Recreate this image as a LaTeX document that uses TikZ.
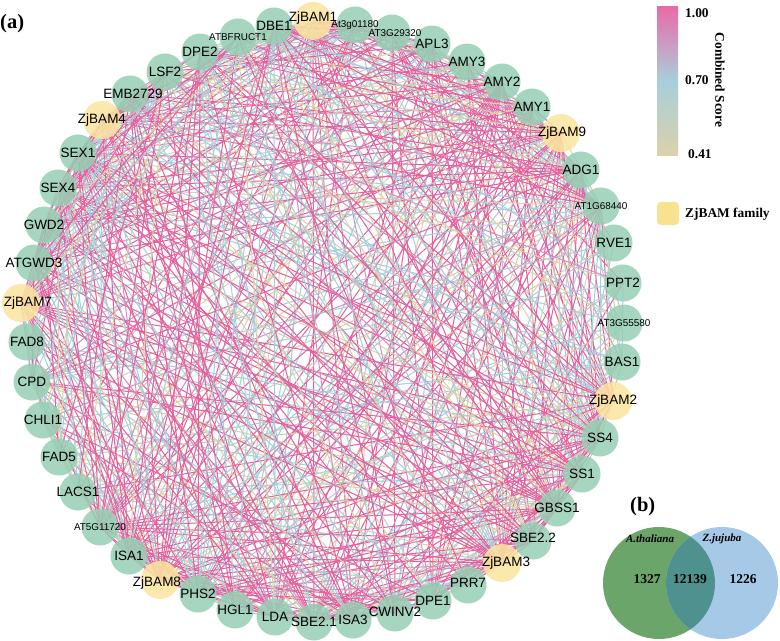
\documentclass[tikz,border=0pt]{standalone}
\usepackage{fontspec}
\newfontfamily\lsans{Liberation Sans}
\newfontfamily\lserif{Liberation Serif}
\pgfdeclarelayer{bg}
\pgfdeclarelayer{edges}
\pgfsetlayers{bg,edges,main}
\definecolor{ngreen}{HTML}{96CFB3}
\definecolor{nyellow}{HTML}{FBE5A0}
\definecolor{epink}{HTML}{E5609C}
\definecolor{elav}{HTML}{D98DBE}
\definecolor{eblue}{HTML}{A7CEDB}
\definecolor{ebeige}{HTML}{D8D3AC}
\definecolor{vgreen}{HTML}{6BA56A}
\definecolor{vblue}{HTML}{A7C9E8}
\definecolor{vmix}{HTML}{4E918E}
\definecolor{lgtop}{HTML}{E96BA8}
\definecolor{lgmid}{HTML}{A8CFDA}
\definecolor{lgbot}{HTML}{DCD1A9}
\definecolor{lgyel}{HTML}{F8E28F}
\tikzset{
  gnode/.style={circle,minimum size=37bp,inner sep=0pt,fill=ngreen,fill opacity=0.84,draw=none},
  ynode/.style={circle,minimum size=38bp,inner sep=0pt,fill=nyellow,fill opacity=0.86,draw=none},
  lbig/.style={inner sep=0pt,font=\lsans\fontsize{13.5bp}{15bp}\selectfont},
  lsm/.style={inner sep=0pt,font=\lsans\fontsize{9.9bp}{11bp}\selectfont},
  edge/.style={line width=1bp},
  legtxt/.style={inner sep=0pt,font=\lserif\bfseries\fontsize{13.4bp}{15bp}\selectfont},
  venntxt/.style={inner sep=0pt,font=\lserif\bfseries\fontsize{13.5bp}{15bp}\selectfont},
  vennit/.style={inner sep=0pt,font=\lserif\bfseries\itshape\fontsize{11bp}{13bp}\selectfont},
  paneltxt/.style={inner sep=0pt,font=\lserif\bfseries\fontsize{20.5bp}{22bp}\selectfont}
}
\def\wts{{1.0,0.8,0.8,0.9,0.9,0.95,0.95,1.0,0.9,0.75,0.35,0.3,0.35,0.35,1.0,0.95,0.9,0.95,0.9,1.0,0.6,0.9,0.8,0.95,0.95,0.9,0.7,0.9,1.0,0.95,0.95,0.55,0.55,0.55,0.55,0.55,1.0,0.85,0.85,0.9,0.9,1.0,0.8,0.85,0.9,0.8,0.9}}
\def\nodelist{
 1/313/21/ZjBAM1/ynode/lbig/0/-3, 2/355/25/At3g01180/gnode/lsm/0/0, 3/392/33/AT3G29320/gnode/lsm/3/0,
 4/432/44/APL3/gnode/lbig/0/0, 5/467/62/AMY3/gnode/lbig/0/0, 6/502/82/AMY2/gnode/lbig/0/0,
 7/532/107/AMY1/gnode/lbig/0/0, 8/561/133/ZjBAM9/ynode/lbig/1/0, 9/581/170/ADG1/gnode/lbig/0/0,
 10/601/206/AT1G68440/gnode/lsm/0/0, 11/614/243/RVE1/gnode/lbig/0/0, 12/623/283/PPT2/gnode/lbig/0/0,
 13/624/323/AT3G55580/gnode/lsm/0/0, 14/622/362/BAS1/gnode/lbig/0/0, 15/613/401/ZjBAM2/ynode/lbig/0/0,
 16/600/438/SS4/gnode/lbig/0/0, 17/582/474/SS1/gnode/lbig/0/0, 18/557/508/GBSS1/gnode/lbig/0/0,
 19/533/541/SBE2.2/gnode/lbig/0/-3, 20/502/563/ZjBAM3/ynode/lbig/4/0, 21/468/585/PRR7/gnode/lbig/0/-2,
 22/433/601/DPE1/gnode/lbig/0/0, 23/395/613/CWINV2/gnode/lbig/0/-1, 24/353/620/ISA3/gnode/lbig/0/0,
 25/314/622/SBE2.1/gnode/lbig/0/0, 26/275/617/LDA/gnode/lbig/0/0, 27/235/610/HGL1/gnode/lbig/0/0,
 28/198/594/PHS2/gnode/lbig/0/0, 29/160/580/ZjBAM8/ynode/lbig/-3/3, 30/129/556/ISA1/gnode/lbig/0/0,
 31/100/527/AT5G11720/gnode/lsm/0/0, 32/78/492/LACS1/gnode/lbig/0/0, 33/59/457/FAD5/gnode/lbig/0/0,
 34/43/420/CHLI1/gnode/lbig/0/0, 35/32/382/CPD/gnode/lbig/0/0, 36/27/342/FAD8/gnode/lbig/0/0,
 37/21/303/ZjBAM7/ynode/lbig/7/0, 38/34/263/ATGWD3/gnode/lbig/0/0, 39/44/225/GWD2/gnode/lbig/0/0,
 40/58/188/SEX4/gnode/lbig/0/0, 41/78/153/SEX1/gnode/lbig/0/0, 42/102/120/ZjBAM4/ynode/lbig/0/0,
 43/130/94/EMB2729/gnode/lbig/3/0, 44/165/72/LSF2/gnode/lbig/0/0, 45/200/52/DPE2/gnode/lbig/0/0,
 46/238/37/ATBFRUCT1/gnode/lsm/0/0, 47/274/26/DBE1/gnode/lbig/0/0}
\begin{document}
\begin{tikzpicture}[x=1bp,y=-1bp]
\useasboundingbox (0,0) rectangle (780,641);
\begin{pgfonlayer}{bg}
\fill[white] (0,0) rectangle (780,641);
\end{pgfonlayer}
% node circles
\foreach \k/\x/\y/\lab/\ty/\fs/\dx/\dy in \nodelist {
  \node[\ty] (n\k) at (\x,\y) {};
}
% node labels (above all circles)
\foreach \k/\x/\y/\lab/\ty/\fs/\dx/\dy in \nodelist {
  \node[\fs] (t\k) at ([xshift=\dx bp,yshift=-\dy bp]n\k.center) {\lab};
}
% edges
\begin{pgfonlayer}{edges}
\pgfmathsetseed{4242}
\foreach \i in {1,...,46} {
  \pgfmathtruncatemacro{\jstart}{\i+1}
  \foreach \j in {\jstart,...,47} {
    \pgfmathsetmacro\wi{\wts[\i-1]}
    \pgfmathsetmacro\wj{\wts[\j-1]}
    \pgfmathsetmacro\pp{0.85*\wi*\wj}
    \pgfmathsetmacro\rr{rnd}
    \ifdim\rr pt<\pp pt
      \pgfmathsetmacro\cc{rnd}
      \pgfmathsetmacro\pk{0.85*(\wi*\wj)^1.5}
      \pgfmathsetmacro\pb{\pk+0.62*(1-\pk)}
      \pgfmathsetmacro\dd{rnd}
      \ifdim\cc pt<\pk pt
        \ifdim\dd pt<0.18pt \def\ecol{elav}\else\def\ecol{epink}\fi
      \else
        \ifdim\cc pt<\pb pt \def\ecol{eblue}\else \def\ecol{ebeige}\fi
      \fi
      \draw[edge,draw=\ecol] (n\i.center) -- (n\j.center);
    \fi
  }
}
\end{pgfonlayer}
% panel labels
\node[paneltxt,anchor=base west] (pa) at (0,28.5) {(a)};
\node[paneltxt,anchor=base west] (pb) at (630,511) {(b)};
% legend gradient
\shade[top color=lgtop,bottom color=lgbot,middle color=lgmid] (657,7) rectangle (678,156);
\node[legtxt,anchor=west] (l1) at (685,13) {1.00};
\node[legtxt,anchor=west] (l2) at (685,80) {0.70};
\node[legtxt,anchor=west] (l3) at (688,154) {0.41};
\node[legtxt,rotate=-90] (lcs) at (720,80) {Combined Score};
\fill[lgyel,rounded corners=4bp] (657,202) rectangle (679,225);
\node[legtxt,anchor=west] (lfam) at (685,214) {ZjBAM family};
% venn
\fill[vgreen] (659,583) circle (56);
\fill[vblue] (722,583) circle (56);
\begin{scope}
  \clip (659,583) circle (56);
  \fill[vmix] (722,583) circle (56);
\end{scope}
\node[vennit] (va) at (650,539) {A.thaliana};
\node[vennit] (vz) at (722,539) {Z.jujuba};
\node[venntxt] (v1) at (647,579) {1327};
\node[venntxt] (v2) at (690,579) {12139};
\node[venntxt] (v3) at (743,579) {1226};
\end{tikzpicture}
\end{document}
